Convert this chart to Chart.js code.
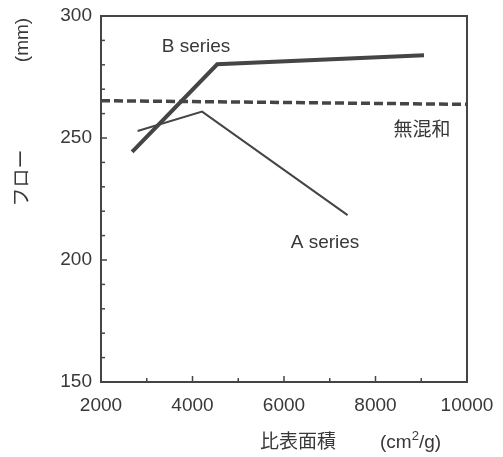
<!DOCTYPE html>
<html>
<head>
<meta charset="utf-8">
<script src="https://cdn.jsdelivr.net/npm/chart.js@4.4.1/dist/chart.umd.min.js"></script>
<style>
  html, body { margin: 0; padding: 0; background: #fff; }
  #wrap { position: relative; width: 503px; height: 457px; }
</style>
</head>
<body>
<div id="wrap"><canvas id="flow"></canvas></div>
<script>
// values
const seriesBX = [2680, 4540, 9060];
const seriesBY = [244.3, 280.2, 283.9];
const seriesAX = [2800, 4210, 7390];
const seriesAY = [252.9, 260.8, 218.4];
const plainX = [2000, 10000];
const plainY = [265.3, 263.8];
const xTickLabels = [2000, 4000, 6000, 8000, 10000];
const yTickLabels = [150, 200, 250, 300];

const ink = "#454545";
const textInk = "#383838";
const fontFamily = '"Liberation Sans", Arial, "Noto Sans CJK JP", sans-serif';

const toPoints = (xs, ys) => xs.map((x, i) => ({ x: x, y: ys[i] }));

// in-chart labels, anchored to data coordinates
const notes = [
  { text: "B series", x: 4077, y: 287.2 },
  { text: "A series", x: 6896, y: 207 },
  { text: "無混和", x: 9016, y: 252.9 },
];

const framePlugin = {
  id: "frame",
  afterDraw(chart) {
    const { ctx, chartArea: a, scales } = chart;
    ctx.save();
    ctx.strokeStyle = ink;
    ctx.lineWidth = 2;
    ctx.strokeRect(a.left, a.top, a.right - a.left, a.bottom - a.top);

    // inward ticks
    ctx.lineWidth = 1.5;
    scales.x.ticks.forEach((t) => {
      const px = scales.x.getPixelForValue(t.value);
      const len = xTickLabels.includes(t.value) ? 6 : 4;
      ctx.beginPath();
      ctx.moveTo(px, a.bottom);
      ctx.lineTo(px, a.bottom - len);
      ctx.stroke();
    });
    scales.y.ticks.forEach((t) => {
      const py = scales.y.getPixelForValue(t.value);
      const len = yTickLabels.includes(t.value) ? 6 : 4;
      ctx.beginPath();
      ctx.moveTo(a.left, py);
      ctx.lineTo(a.left + len, py);
      ctx.stroke();
    });

    // series labels
    ctx.fillStyle = textInk;
    ctx.font = "19px " + fontFamily;
    ctx.textAlign = "center";
    ctx.textBaseline = "middle";
    notes.forEach((n) => {
      ctx.fillText(n.text, scales.x.getPixelForValue(n.x), scales.y.getPixelForValue(n.y));
    });

    // x axis title
    const ty = a.bottom + 61;
    ctx.fillText("比表面積", a.left + 197, ty);
    ctx.textAlign = "left";
    let cx = a.left + 279;
    ctx.fillText("(cm", cx, ty);
    cx += ctx.measureText("(cm").width;
    ctx.font = "13px " + fontFamily;
    ctx.fillText("2", cx, ty - 7);
    cx += ctx.measureText("2").width;
    ctx.font = "19px " + fontFamily;
    ctx.fillText("/g)", cx, ty);

    // y axis title
    ctx.textAlign = "center";
    ctx.translate(23, 0);
    ctx.rotate(-Math.PI / 2);
    ctx.fillText("フロー", -178, 0);
    ctx.fillText("(mm)", -40, 0);
    ctx.restore();
  },
};

const noScalePadding = (scale) => {
  scale.paddingTop = 0;
  scale.paddingBottom = 0;
  scale.paddingLeft = 0;
  scale.paddingRight = 0;
};

new Chart(document.getElementById("flow"), {
  type: "line",
  data: {
    datasets: [
      {
        label: "B series",
        data: toPoints(seriesBX, seriesBY),
        borderColor: ink,
        borderWidth: 4,
        pointRadius: 0,
        fill: false,
      },
      {
        label: "A series",
        data: toPoints(seriesAX, seriesAY),
        borderColor: ink,
        borderWidth: 2,
        pointRadius: 0,
        fill: false,
      },
      {
        label: "無混和",
        data: toPoints(plainX, plainY),
        borderColor: ink,
        borderWidth: 3.5,
        borderDash: [9, 4],
        pointRadius: 0,
        fill: false,
      },
    ],
  },
  options: {
    responsive: true,
    maintainAspectRatio: false,
    animation: false,
    layout: { padding: { left: 0, top: 16, right: 36, bottom: 0 } },
    plugins: { legend: { display: false }, tooltip: { enabled: false } },
    scales: {
      x: {
        type: "linear",
        min: 2000,
        max: 10000,
        grid: { drawOnChartArea: false, drawTicks: false },
        border: { display: false },
        ticks: {
          stepSize: 1000,
          autoSkip: false,
          maxRotation: 0,
          padding: 12,
          color: textInk,
          font: { size: 19, family: fontFamily },
          callback: (v) => (xTickLabels.includes(v) ? String(v) : ""),
        },
        afterFit: (scale) => { scale.height = 75; noScalePadding(scale); },
      },
      y: {
        min: 150,
        max: 300,
        grid: { drawOnChartArea: false, drawTicks: false },
        border: { display: false },
        ticks: {
          stepSize: 10,
          autoSkip: false,
          padding: 9,
          color: textInk,
          font: { size: 19, family: fontFamily },
          callback: (v) => (yTickLabels.includes(v) ? String(v) : ""),
        },
        afterFit: (scale) => { scale.width = 101; noScalePadding(scale); },
      },
    },
  },
  plugins: [framePlugin],
});
</script>
</body>
</html>
